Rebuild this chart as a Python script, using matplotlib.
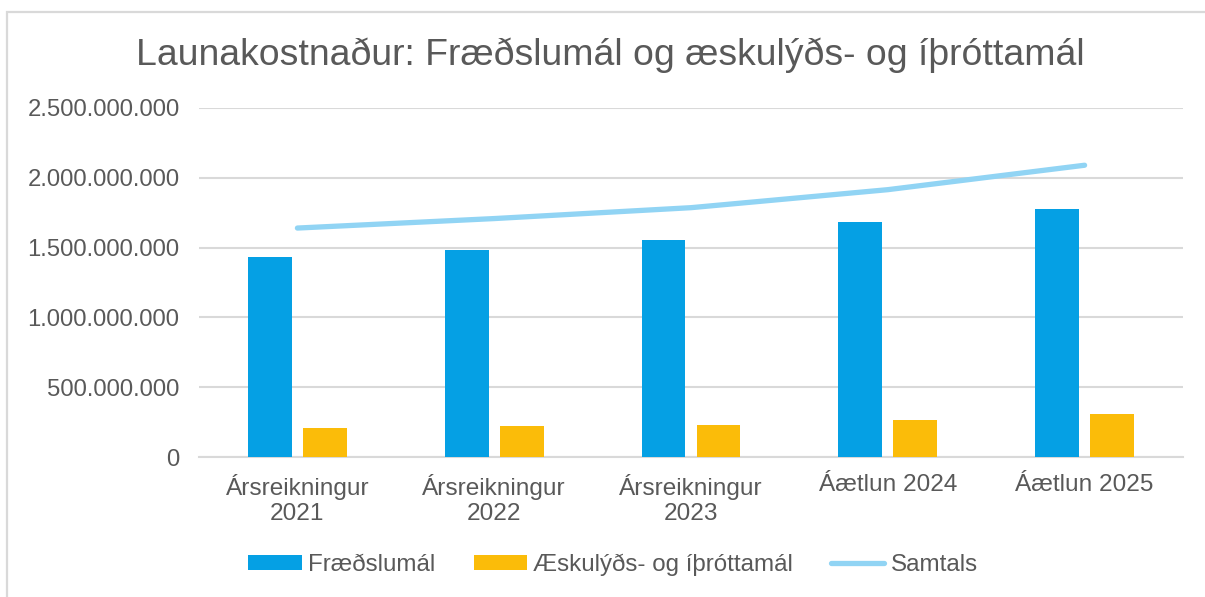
import numpy as np
import matplotlib.pyplot as plt
from matplotlib.patches import Rectangle
from matplotlib.ticker import FuncFormatter

categories = ['Ársreikningur\n2021', 'Ársreikningur\n2022', 'Ársreikningur\n2023',
              'Áætlun 2024', 'Áætlun 2025']
fraedslumal = [1432e6, 1483e6, 1555e6, 1682e6, 1780e6]
aeskulyds = [208e6, 222e6, 229e6, 265e6, 308e6]
samtals = [1640e6, 1708e6, 1786e6, 1915e6, 2090e6]

plt.rcParams['font.family'] = ['Liberation Sans', 'DejaVu Sans']
grey = '#595959'

fig = plt.figure(figsize=(12.05, 5.97), dpi=100)
ax = fig.add_axes([199 / 1205, 1 - 457 / 597, 984 / 1205, 349 / 597])

# chart border
fig.add_artist(Rectangle((6.5 / 1205, -0.1), 1.2, (1 - 12 / 597) + 0.1, transform=fig.transFigure,
                         fill=False, edgecolor='#d9d9d9', linewidth=1.6))

x = np.arange(len(categories))
w = 0.223
off = 0.14
b1 = ax.bar(x - off, fraedslumal, w, color='#05a0e4', label='Fræðslumál', zorder=3)
b2 = ax.bar(x + off, aeskulyds, w, color='#fbbc09', label='Æskulýðs- og íþróttamál', zorder=3)
l1, = ax.plot(x, samtals, color='#91d4f4', linewidth=3.8, solid_capstyle='round',
              label='Samtals', zorder=4)

ax.set_xlim(-0.5, 4.5)
ax.set_ylim(0, 2.5e9)
ax.set_yticks(np.arange(0, 2.5e9 + 1, 5e8))
ax.yaxis.set_major_formatter(FuncFormatter(lambda v, p: f'{int(v):,}'.replace(',', '.')))
ax.set_xticks(x)
ax.set_xticklabels(categories, linespacing=1.2)
ax.grid(axis='y', color='#d9d9d9', linewidth=1.5, zorder=0)
for s in ['top', 'right', 'left']:
    ax.spines[s].set_visible(False)
ax.spines['bottom'].set_color('#d9d9d9')
ax.spines['bottom'].set_linewidth(1.5)
ax.tick_params(axis='both', length=0, labelcolor=grey)
ax.tick_params(axis='y', labelsize=17.2, pad=14)
ax.tick_params(axis='x', labelsize=17.6, pad=12)

fig.text(0.5066, 1 - 55 / 597, 'Launakostnaður: Fræðslumál og æskulýðs- og íþróttamál',
         ha='center', va='center', fontsize=26.9, color=grey)

fig.legend([b1, b2, l1], ['Fræðslumál', 'Æskulýðs- og íþróttamál', 'Samtals'],
           loc='center', bbox_to_anchor=(0.5087, 1 - 565 / 597), ncol=3, frameon=False,
           fontsize=17.4, labelcolor=grey, handlelength=2.2, handleheight=0.55,
           handletextpad=0.25, columnspacing=1.6)

fig.savefig('out.png', dpi=100)
